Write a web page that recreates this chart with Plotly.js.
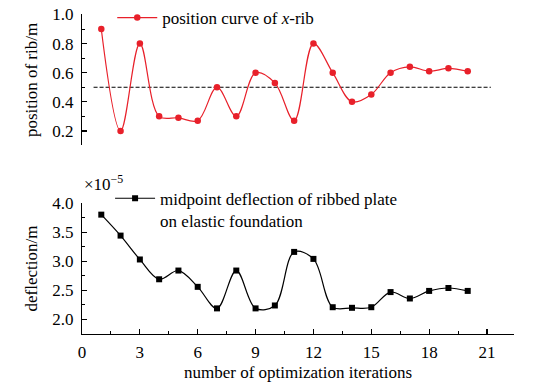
<!DOCTYPE html>
<html><head><meta charset="utf-8">
<script src="https://cdn.plot.ly/plotly-3.0.1.min.js"></script>
<style>html,body{margin:0;padding:0;background:#fff;}#chart{width:537px;height:382px;}</style>
</head><body><div id="chart"></div>
<script>
const iterations = [1,2,3,4,5,6,7,8,9,10,11,12,13,14,15,16,17,18,19,20];
const ribPosition = [0.90,0.20,0.80,0.30,0.29,0.27,0.50,0.30,0.60,0.53,0.27,0.80,0.60,0.40,0.45,0.60,0.64,0.61,0.63,0.61];
const deflection = [3.80,3.44,3.03,2.69,2.84,2.56,2.19,2.84,2.19,2.24,3.16,3.04,2.21,2.20,2.21,2.47,2.36,2.49,2.54,2.49];
const refLineX = [0.6, 21.2];
const refLineY = [0.5, 0.5];
const xTicks = [0,3,6,9,12,15,18,21];

const font = {family:'"Liberation Serif", "Times New Roman", serif', size:17, color:'#000'};

const traces = [
  {x:refLineX, y:refLineY, xaxis:'x2', yaxis:'y2', mode:'lines', line:{color:'#000', width:1, dash:'4px,2px'}, showlegend:false, hoverinfo:'skip'},
  {x:iterations, y:ribPosition, xaxis:'x2', yaxis:'y2', mode:'lines+markers', name:'position curve of <i>x</i>-rib',
   line:{color:'#e8202a', width:1.2, shape:'spline', smoothing:1}, marker:{color:'#e8202a', size:6.5, symbol:'circle'}, legend:'legend'},
  {x:iterations, y:deflection, xaxis:'x', yaxis:'y', mode:'lines+markers', name:'midpoint deflection of ribbed plate<br>on elastic foundation',
   line:{color:'#000', width:1.2, shape:'spline', smoothing:1}, marker:{color:'#000', size:6, symbol:'square'}, legend:'legend2'}
];

const axisCommon = {showgrid:false, zeroline:false, showline:true, linecolor:'#000', linewidth:1.2,
  ticks:'inside', ticklen:5, tickwidth:1.2, tickcolor:'#000', tickfont:font, ticklabelstandoff:4};

const layout = {
  width:537, height:382, paper_bgcolor:'#fff', plot_bgcolor:'rgba(0,0,0,0)',
  margin:{l:82, r:23, t:0, b:47.5},
  font:font,
  xaxis:Object.assign({}, axisCommon, {range:[0,22.4], tickvals:xTicks, ticktext:xTicks.map(String), domain:[0,1],
     anchor:'y', ticklabelstandoff:2, minor:{dtick:1.5, tick0:0, ticks:'inside', ticklen:3, tickwidth:1, tickcolor:'#000'},
     title:{text:'number of optimization iterations', font:font, standoff:8}}),
  yaxis:Object.assign({}, axisCommon, {range:[1.75,4.0], domain:[0,0.3922], dtick:0.5, tickformat:'.1f', anchor:'x',
     minor:{dtick:0.25, ticks:'inside', ticklen:3, tickwidth:1, tickcolor:'#000'},
     title:{text:'deflection/m', font:font, standoff:10}}),
  xaxis2:{range:[0,22.4], anchor:'y2', domain:[0,1], showline:false, showticklabels:false, ticks:'', showgrid:false, zeroline:false},
  yaxis2:Object.assign({}, axisCommon, {range:[0.1,1.0], domain:[0.5644,0.9567], dtick:0.2, tick0:0.2, tickformat:'.1f', anchor:'x2',
     minor:{dtick:0.1, tick0:0.1, ticks:'inside', ticklen:3, tickwidth:1, tickcolor:'#000'},
     title:{text:'position of rib/m', font:font, standoff:10}}),
  legend:{x:0.07, y:1.0, xanchor:'left', yanchor:'top', bgcolor:'rgba(0,0,0,0)', font:font, itemwidth:40, tracegroupgap:0},
  legend2:{x:0.065, y:0.459, xanchor:'left', yanchor:'top', bgcolor:'rgba(0,0,0,0)', font:font, itemwidth:40, valign:'top'},
  annotations:[{text:'×10<sup>−5</sup>', xref:'paper', yref:'paper', x:0, y:0.453, xanchor:'left', yanchor:'middle', showarrow:false, font:font}]
};

Plotly.newPlot('chart', traces, layout, {displayModeBar:false, staticPlot:true});
</script></body></html>
